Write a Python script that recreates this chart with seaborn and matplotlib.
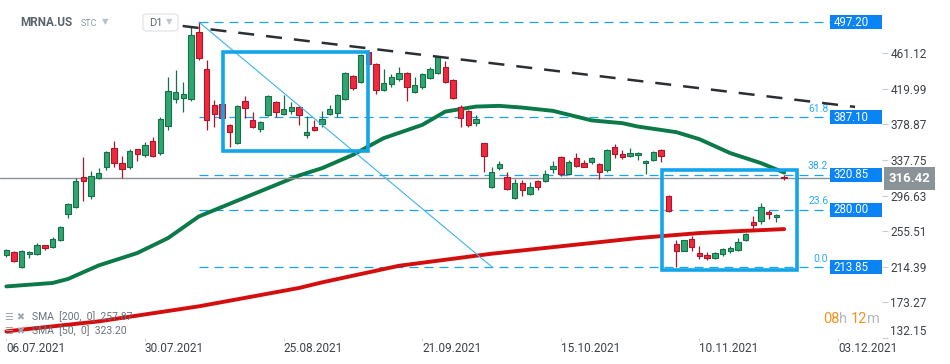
# MRNA.US daily candles with SMA 50/200, fib levels and drawn trendlines
import numpy as np
import pandas as pd
import matplotlib
matplotlib.use("Agg")
import matplotlib.pyplot as plt
import matplotlib.transforms as mtransforms
from matplotlib.patches import Rectangle, FancyBboxPatch
import seaborn as sns

# ---------------- data ----------------
opens = [227.4, 231.4, 214.0, 228.6, 229.0, 239.0, 237.1, 245.2, 274.8, 282.9,
         318.0, 296.7, 317.5, 329.5, 351.4, 334.1, 330.2, 350.3, 344.0, 359.5,
         345.7, 376.8, 408.0, 409.2, 408.0, 485.4, 442.7, 401.4, 402.6, 378.3,
         357.2, 405.7, 383.8, 373.4, 389.9, 404.5, 390.7, 394.2, 398.8, 366.8,
         375.7, 379.8, 391.4, 391.8, 408.0, 434.6, 428.3, 462.3, 448.4, 418.9,
         425.3, 431.1, 438.0, 416.1, 422.6, 432.3, 438.0, 445.0, 430.0, 399.5,
         394.2, 380.1, 357.2, 307.1, 329.0, 318.0, 293.7, 311.0, 298.3, 313.3,
         313.3, 327.9, 341.0, 321.4, 339.9, 334.1, 335.3, 333.0, 326.0, 352.6,
         344.5, 342.2, 343.4, 334.1, 337.6, 349.1, 296.0, 240.6, 232.5, 246.4,
         230.2, 227.9, 224.0, 229.0, 232.5, 233.7, 245.2, 266.0, 267.2, 277.6,
         271.8, 318.5]
highs = [235.2, 232.3, 233.4, 232.9, 241.8, 239.8, 248.7, 261.2, 288.6, 317.1,
         341.4, 325.2, 328.3, 348.3, 359.9, 342.5, 350.6, 350.6, 358.4, 364.5,
         387.9, 434.1, 441.8, 428.3, 491.5, 497.2, 453.4, 407.2, 407.2, 379.5,
         401.4, 411.8, 393.0, 383.0, 412.6, 406.1, 412.6, 404.5, 400.3, 388.7,
         383.8, 394.5, 401.1, 414.1, 439.5, 436.4, 460.3, 464.9, 449.9, 442.7,
         436.9, 445.0, 439.9, 433.4, 438.4, 445.7, 458.0, 451.9, 431.5, 401.4,
         395.7, 389.9, 357.5, 329.5, 336.8, 323.7, 315.6, 314.5, 312.2, 314.3,
         326.0, 336.8, 342.0, 337.6, 346.0, 337.6, 340.8, 333.9, 350.1, 356.4,
         349.1, 351.4, 346.6, 337.6, 347.7, 350.1, 296.9, 245.6, 245.6, 249.8,
         238.3, 231.4, 231.4, 235.7, 238.3, 247.5, 253.1, 272.9, 287.9, 279.9,
         275.0, 320.9]
lows = [225.9, 220.2, 213.2, 224.0, 228.2, 233.7, 236.3, 244.4, 270.2, 281.9,
        290.6, 293.2, 316.0, 325.6, 329.5, 317.5, 327.2, 336.8, 341.7, 341.4,
        343.7, 372.6, 403.4, 393.7, 406.1, 453.4, 372.6, 376.4, 384.1, 353.3,
        356.4, 386.1, 374.9, 369.9, 388.7, 387.2, 389.9, 391.0, 378.3, 363.0,
        371.4, 376.4, 389.9, 387.9, 407.2, 418.9, 427.2, 446.5, 414.5, 417.0,
        421.9, 428.8, 406.4, 415.3, 420.3, 431.5, 437.2, 426.5, 408.0, 376.4,
        375.7, 377.5, 323.3, 304.8, 326.4, 302.5, 292.9, 296.7, 297.5, 302.5,
        312.5, 322.6, 319.1, 320.6, 329.8, 329.5, 333.0, 316.3, 323.7, 340.6,
        338.7, 341.4, 337.6, 321.4, 336.8, 335.3, 277.9, 213.85, 232.3, 232.5,
        223.3, 221.7, 223.6, 226.7, 230.2, 232.9, 244.1, 257.9, 263.2, 269.5,
        266.0, 314.5]
closes = [233.7, 221.0, 232.5, 231.4, 239.4, 236.0, 246.4, 260.2, 286.8, 313.3,
          313.3, 319.1, 322.6, 346.8, 334.8, 327.9, 348.0, 344.5, 354.9, 342.2,
          384.9, 417.3, 416.1, 414.1, 482.3, 455.4, 383.8, 391.4, 386.4, 370.6,
          400.3, 398.3, 375.7, 381.5, 411.5, 393.0, 396.5, 399.1, 389.9, 369.9,
          372.9, 385.6, 396.5, 412.6, 438.0, 421.4, 458.8, 448.4, 418.9, 426.5,
          433.4, 438.0, 421.9, 424.2, 436.9, 442.7, 456.5, 428.3, 409.5, 386.8,
          378.0, 385.6, 342.9, 323.7, 333.0, 304.1, 311.0, 302.5, 306.4, 307.1,
          321.4, 330.7, 321.4, 335.3, 330.7, 330.2, 339.9, 323.7, 349.1, 344.5,
          341.0, 345.7, 345.7, 336.4, 346.8, 342.2, 279.0, 232.5, 245.2, 237.1,
          226.3, 224.0, 230.2, 234.8, 236.0, 242.9, 252.2, 262.5, 283.3, 275.2,
          274.1, 316.42]

# moving averages, read at a few candles
sma50_idx = [0, 6, 8, 12, 17, 21, 25, 29, 34, 38, 41, 45, 49, 54, 57, 61, 64,
             67, 71, 74, 76, 80, 82, 87, 90, 94, 98, 101]
sma50_val = [191.6, 195.6, 200.2, 215.9, 230.2, 247.5, 272.5, 287.1, 305.3,
             319.8, 328.3, 343.7, 363.0, 378.3, 393.7, 399.5, 400.3, 398.3,
             394.5, 387.9, 383.5, 380.3, 376.4, 369.9, 361.8, 345.7, 334.1, 323.2]
sma200_idx = [0, 12, 25, 38, 41, 51, 63, 72, 82, 90, 94, 101]
sma200_val = [139.7, 151.2, 168.6, 189.8, 196.3, 215.5, 229.4, 238.0, 247.5,
              253.3, 255.1, 257.87]

date_ticks = [0, 18, 36, 54, 72, 90, 108]
date_labels = ["06.07.2021", "30.07.2021", "25.08.2021", "21.09.2021",
               "15.10.2021", "10.11.2021", "03.12.2021"]
price_ticks = [132.15, 173.27, 214.39, 255.51, 296.63, 337.75, 378.87, 419.99, 461.12]

fib_levels = [497.20, 387.10, 320.85, 280.00, 213.85]
fib_names = ["", "61.8", "38.2", "23.6", "0.0"]
last_price = 316.42

# ---------------- style ----------------
sns.set_theme(style="white")
plt.rcParams["font.family"] = ["Roboto", "DejaVu Sans"]

GREEN, GREEN_EDGE = "#2fa56f", "#15704a"
RED, RED_EDGE = "#f0293f", "#a8172b"
FIB = "#1aa3f0"
BOX = "#12a5ea"
LABEL_BLUE = "#0a84f5"
TXT = "#3d4247"

W, H = 950, 364
fig = plt.figure(figsize=(W / 100, H / 100), dpi=100, facecolor="white")
ax = fig.add_axes([0, 1 - 338 / H, 882 / W, 338 / H])
ax.set_xlim(-0.82, 113.7)
ax.set_ylim(132.0, 522.66)
for s in ax.spines.values():
    s.set_visible(False)

def px(x, y):
    return x / W, 1 - y / H

trans = mtransforms.blended_transform_factory(ax.transAxes, ax.transData)

# ---------------- candles ----------------
df = pd.DataFrame({"open": opens, "high": highs, "low": lows, "close": closes})
df["idx"] = np.arange(len(df))
up = df["close"] >= df["open"]
for mask, fc, ec in [(up, GREEN, GREEN_EDGE), (~up, RED, RED_EDGE)]:
    d = df[mask]
    ax.vlines(d["idx"], d["low"], d["high"], color=ec, lw=0.9, zorder=3)
    ax.bar(d["idx"], (d["close"] - d["open"]).abs().clip(lower=1.2),
           bottom=np.minimum(d["open"], d["close"]), width=0.7,
           color=fc, edgecolor=ec, linewidth=0.8, zorder=4)

# ---------------- moving averages ----------------
sns.lineplot(x=sma50_idx, y=sma50_val, ax=ax, color="#0b7a48", lw=2.8, zorder=2)
sns.lineplot(x=sma200_idx, y=sma200_val, ax=ax, color="#d40e0e", lw=2.8, zorder=2)

# ---------------- fibonacci levels ----------------
for lvl, name in zip(fib_levels, fib_names):
    ax.plot([25, 106.9], [lvl, lvl], color=FIB, lw=0.9, dashes=(7.2, 4.8), zorder=1)
    if name:
        ax.text(0.939, lvl + 4, name, transform=trans, ha="right", va="bottom",
                color="#2aaaf4", fontsize=7.5)
    ax.add_patch(Rectangle((0.941, lvl - 8.1), 0.059, 16.2, transform=trans,
                           facecolor=LABEL_BLUE, edgecolor="none", zorder=7))
    ax.text(0.9455, lvl, f"{lvl:.2f}", transform=trans, ha="left", va="center",
            color="white", fontsize=8.3, zorder=8)

# fib swing line and trendline
ax.plot([25, 63.1], [497.2, 213.85], color="#3cb4f0", lw=0.8, zorder=5)
ax.plot([22.9, 110.2], [492.6, 399.1], color="#2b2f33", lw=1.8,
        dashes=(6.4, 4.8), zorder=5)

# rectangles
ax.add_patch(Rectangle((28.1, 348.3), 47.0 - 28.1, 462.3 - 348.3, fill=False,
                       edgecolor=BOX, lw=2.6, zorder=6))
ax.add_patch(Rectangle((85.1, 210.9), 102.6 - 85.1, 325.6 - 210.9, fill=False,
                       edgecolor=BOX, lw=2.6, zorder=6))

# current price line and label
ax.axhline(last_price, color="#8c9296", lw=1.0, zorder=2)
ax.text(1.008, last_price, f"{last_price:.2f}", transform=trans, ha="left",
        va="center", color="white", fontsize=9.5, fontweight="bold", clip_on=False,
        bbox=dict(boxstyle="square,pad=0.35", fc="#8a9397", ec="none"))

# ---------------- axes ----------------
ax.yaxis.tick_right()
ax.set_yticks(price_ticks)
ax.set_yticklabels([f"{v:.2f}" for v in price_ticks])
ax.tick_params(axis="y", right=True, left=False, length=4, width=0.8,
               color="#c8ccd0", pad=2, labelsize=8.5, labelcolor=TXT)
ax.yaxis.get_major_ticks()[0].label2.set_verticalalignment("bottom")
ax.set_xticks(date_ticks)
ax.set_xticklabels(date_labels)
ax.tick_params(axis="x", bottom=True, length=2.5, width=0.8, color="#d5d8db",
               pad=0.5, labelsize=8.5, labelcolor=TXT)
for lab in ax.get_xticklabels():
    lab.set_horizontalalignment("left")
ax.set_xlabel("")
ax.set_ylabel("")
ax.grid(False)

# ---------------- header ----------------
fig.text(*px(20, 23), "MRNA.US", fontsize=8.5, fontweight="bold", color="#59636c", va="center")
fig.text(*px(81, 24), "STC", fontsize=6.5, color="#8a99a6", va="center")
fig.text(*px(102, 22), "▼", fontsize=6, color="#b8c0c8", va="center",
         family=["DejaVu Sans"])
fig.patches.append(FancyBboxPatch(px(143, 31), 35 / W, 17 / H,
                                  boxstyle="round,pad=0,rounding_size=0.006",
                                  transform=fig.transFigure, facecolor="white",
                                  edgecolor="#dde1e5", lw=0.8))
fig.text(*px(149, 23), "D1", fontsize=8, color="#606a73", va="center")
fig.text(*px(166, 22), "▼", fontsize=6, color="#c0c7cd", va="center",
         family=["DejaVu Sans"])

# indicator legend
fig.text(*px(5, 317), "☰ ✖", fontsize=7, color="#a0a7ad", va="center",
         family=["DejaVu Sans"])
fig.text(*px(32, 317), "SMA  [200,  0]  257.87", fontsize=7.5, color="#6b737a", va="center")
fig.text(*px(5, 331), "☰ ✖", fontsize=7, color="#a0a7ad", va="center",
         family=["DejaVu Sans"])
fig.text(*px(32, 331), "SMA  [50,  0]  323.20", fontsize=7.5, color="#6b737a", va="center")

# countdown
t = fig.text(*px(823, 319), "08", fontsize=10.5, color="#f5931f", va="center")
t = ax.annotate("h ", xy=(1, 0), xycoords=t, va="bottom", fontsize=10.5, color="#b3bac0")
t = ax.annotate("12", xy=(1, 0), xycoords=t, va="bottom", fontsize=10.5, color="#f5931f")
t = ax.annotate("m", xy=(1, 0), xycoords=t, va="bottom", fontsize=10.5, color="#b3bac0")

fig.savefig("out.png", dpi=100)
